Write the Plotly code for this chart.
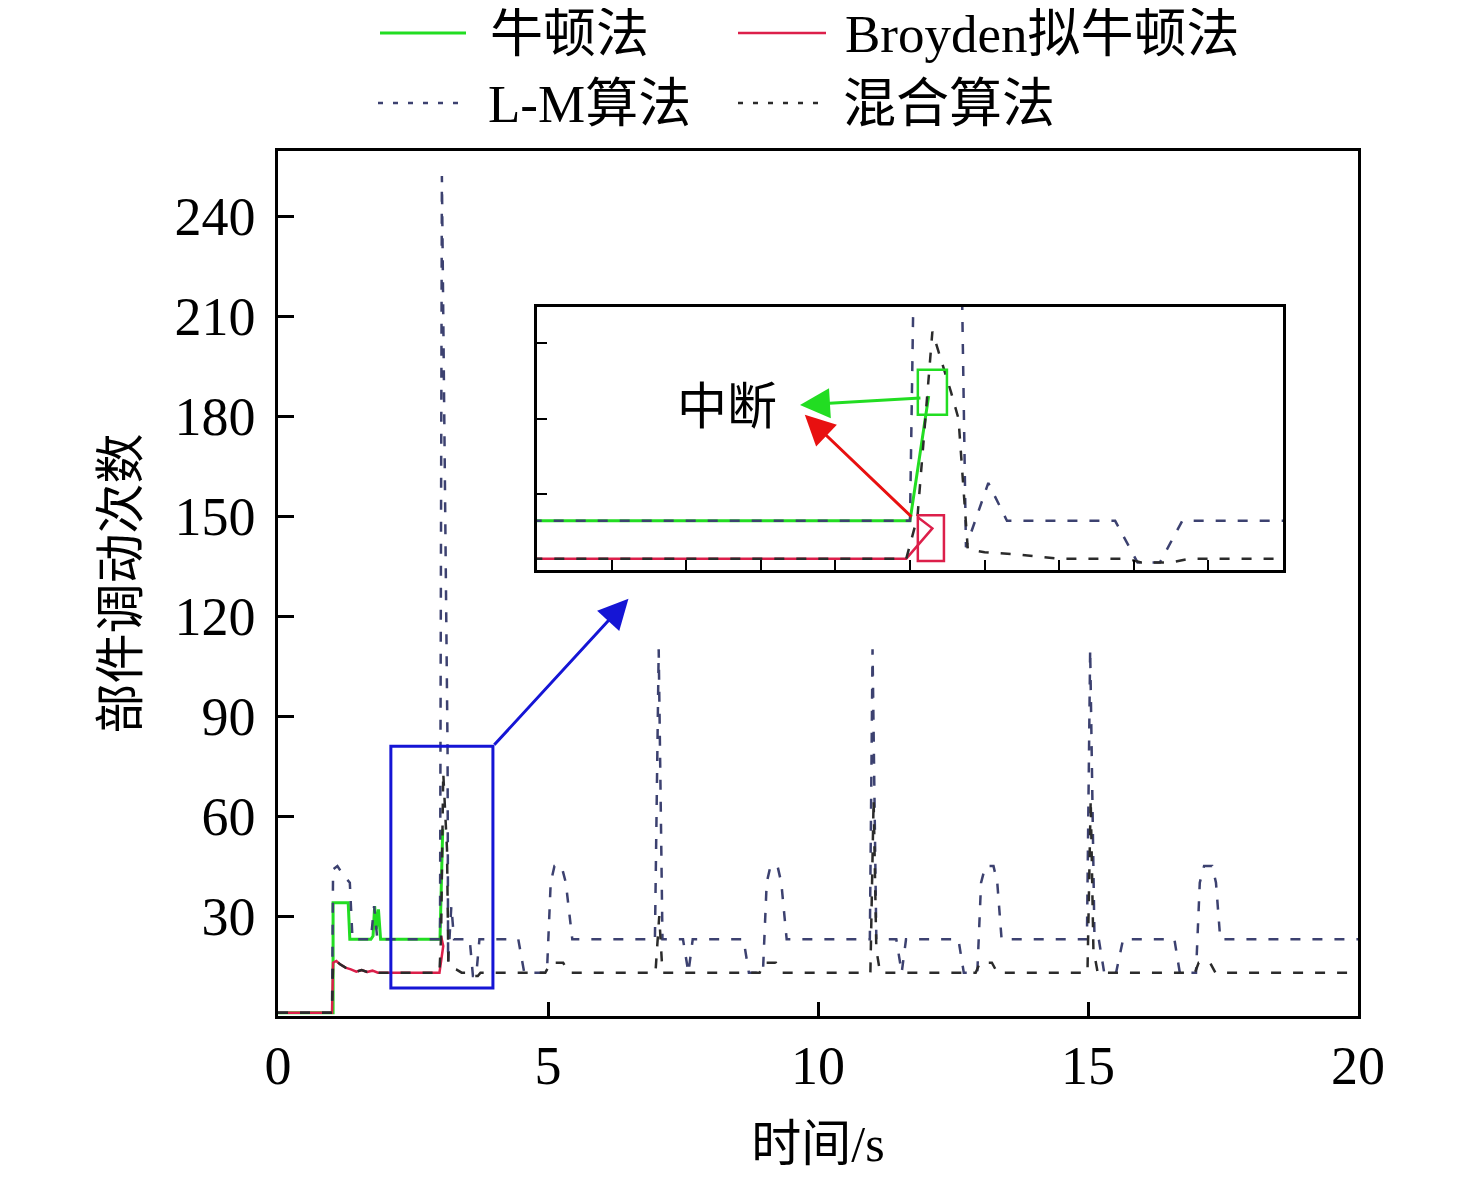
import plotly.graph_objects as go

# time (s) and component adjustment counts
NEWTON_T = [0, 1.00, 1.02, 1.02, 1.30, 1.33, 1.72, 1.76, 1.79, 1.82, 1.86, 1.90, 3.00, 3.05]
NEWTON_N = [1, 1, 1, 34, 34, 23, 23, 24, 33, 26, 32, 23, 23, 56]

BROYDEN_T = [0, 1.00, 1.02, 1.08, 1.15, 1.25, 1.35, 1.45, 1.55, 1.65, 1.75, 1.85, 2.99, 3.06, 3.02]
BROYDEN_N = [1, 1, 16, 16.5, 15.5, 14.5, 14, 13.3, 13.8, 13.2, 13.6, 13, 13, 21, 24]

LM_T = [0, 1.00, 1.02, 1.10, 1.22, 1.33, 1.38, 1.72, 1.78, 1.84, 3.00, 3.035, 3.14, 3.15,
        3.21, 3.26, 3.55, 3.61, 3.67, 3.73, 4.45, 4.56, 4.98, 5.05, 5.12, 5.25, 5.33, 5.45,
        6.98, 7.05, 7.12, 7.50, 7.60, 7.68, 8.62, 8.72, 8.98, 9.05, 9.12, 9.25, 9.32, 9.42,
        10.96, 11.01, 11.08, 11.45, 11.55, 11.63, 12.60, 12.70, 12.95, 13.02, 13.10, 13.25,
        13.32, 13.40, 14.98, 15.04, 15.12, 15.20, 15.30, 15.52, 15.65, 16.60, 16.70, 17.00,
        17.07, 17.15, 17.30, 17.37, 17.45, 20]
LM_N = [1, 1, 44, 45, 42, 40, 23, 23, 33, 23, 23, 252, 80, 16,
        33, 23, 23, 12, 12, 23, 23, 13, 13, 40, 45, 45, 40, 23,
        23, 110, 23, 23, 13, 23, 23, 13, 13, 40, 45, 45, 40, 23,
        23, 110, 23, 23, 13, 23, 23, 13, 13, 40, 45, 45,
        40, 23, 23, 110, 23, 23, 13, 13, 23, 23, 13, 13,
        40, 45, 45, 40, 23, 23]

HYBRID_T = [0, 1.00, 1.02, 1.08, 1.15, 1.25, 1.35, 1.45, 1.55, 1.65, 1.75, 1.85, 2.99, 3.02,
            3.06, 3.11, 3.13, 3.155, 3.20, 3.30, 3.40, 3.58, 3.62, 3.70, 3.75, 4.95, 5.05,
            5.28, 5.38, 6.99, 7.06, 7.12, 8.92, 9.00, 9.22, 9.32, 10.97, 11.03, 11.08, 11.15,
            12.92, 13.00, 13.22, 13.32, 14.99, 15.05, 15.10, 15.18, 16.98, 17.05, 17.26,
            17.36, 20]
HYBRID_N = [1, 1, 16, 16.5, 15.5, 14.5, 14, 13.3, 13.8, 13.2, 13.6, 13, 13, 24,
            73, 57, 50, 15.5, 14.7, 14, 13, 13, 12, 12, 13, 13, 16,
            16, 13, 13, 30, 13, 13, 16, 16, 13, 13, 65, 20, 13,
            13, 16, 16, 13, 13, 65, 20, 13, 13, 16, 16,
            13, 13]

SERIES = [
    ("牛顿法", NEWTON_T, NEWTON_N, "#22dd22", 3, "solid"),
    ("Broyden拟牛顿法", BROYDEN_T, BROYDEN_N, "#dc1f4a", 2.5, "solid"),
    ("L-M算法", LM_T, LM_N, "#3c4170", 2.5, "10px,12px"),
    ("混合算法", HYBRID_T, HYBRID_N, "#2b2b2b", 2.5, "10px,12px"),
]

Y_TICKS = [30, 60, 90, 120, 150, 180, 210, 240]
X_TICKS = [0, 5, 10, 15, 20]
INSET_X_TICKS = [2.2, 2.4, 2.6, 2.8, 3.0, 3.2, 3.4, 3.6, 3.8]
INSET_Y_TICKS = [30, 50, 70]

# page has a default 8px body margin, so the figure starts at (8, 8)
OFF = 8
W, H = 1476 - OFF, 1180 - OFF
L, R, T, B = 278 - OFF, 118, 151 - OFF, 164
FONT = "Liberation Serif, Noto Sans CJK SC, serif"


def px(x):
    return (x - OFF - L) / (W - L - R)


def py(y):
    return (OFF + H - B - y) / (H - T - B)


fig = go.Figure()
for name, t, n, color, width, dash in SERIES:
    fig.add_trace(go.Scatter(x=t, y=n, mode="lines", name=name, showlegend=False,
                             line=dict(color=color, width=width, dash=dash)))
for name, t, n, color, width, dash in SERIES:
    fig.add_trace(go.Scatter(x=t, y=n, mode="lines", name=name, showlegend=False,
                             xaxis="x2", yaxis="y2",
                             line=dict(color=color, width=width, dash=dash)))

axis_common = dict(showgrid=False, zeroline=False, showline=True, linecolor="black",
                   linewidth=2.5, mirror=True, ticks="inside", tickcolor="black")

fig.update_layout(
    width=W, height=H,
    margin=dict(l=L, r=R, t=T, b=B),
    plot_bgcolor="white", paper_bgcolor="white",
    font=dict(family=FONT, size=54, color="black"),
    showlegend=False,
    xaxis=dict(range=[0, 20], tickvals=X_TICKS, ticklen=14, tickwidth=2.5,
               ticklabelstandoff=0,
               title=dict(text="时间/s", font=dict(size=50), standoff=32), **axis_common),
    yaxis=dict(range=[0, 259.5], tickvals=Y_TICKS, ticklen=16, tickwidth=2.5,
               ticklabelstandoff=9,
               title=dict(text="部件调动次数", font=dict(size=50), standoff=20), **axis_common),
    xaxis2=dict(domain=[px(537), px(1283)], anchor="y2", range=[2, 4],
                tickvals=INSET_X_TICKS, showticklabels=False, ticklen=10, tickwidth=2,
                **axis_common),
    yaxis2=dict(domain=[py(570), py(307)], anchor="x2", range=[10, 79.5],
                tickvals=INSET_Y_TICKS, showticklabels=False, ticklen=10, tickwidth=2,
                **axis_common),
)

# inset background
fig.add_shape(type="rect", xref="x2 domain", yref="y2 domain", x0=0, x1=1, y0=0, y1=1,
              fillcolor="white", line=dict(width=0), layer="below")

# zoom box and arrow in main plot
fig.add_shape(type="rect", xref="x", yref="y", x0=2.09, x1=3.98, y0=8.4, y1=80.9,
              line=dict(color="#1515d5", width=3))
fig.add_annotation(x=6.49, y=125.2, ax=3.98, ay=80.9, xref="x", yref="y",
                   axref="x", ayref="y", text="", showarrow=True, arrowhead=2,
                   arrowsize=2, arrowwidth=3, arrowcolor="#1515d5")

# inset marks
fig.add_shape(type="rect", xref="x2", yref="y2", x0=3.021, x1=3.099, y0=51, y1=62.9,
              line=dict(color="#22dd22", width=2.5))
fig.add_shape(type="rect", xref="x2", yref="y2", x0=3.021, x1=3.091, y0=12.4, y1=24.5,
              line=dict(color="#dc1f4a", width=2.5))
fig.add_annotation(x=2.705, y=53.6, ax=3.032, ay=55.5, xref="x2", yref="y2",
                   axref="x2", ayref="y2", text="", showarrow=True, arrowhead=2,
                   arrowsize=2, arrowwidth=3, arrowcolor="#22dd22")
fig.add_annotation(x=2.718, y=51.0, ax=3.008, ay=23.7, xref="x2", yref="y2",
                   axref="x2", ayref="y2", text="", showarrow=True, arrowhead=2,
                   arrowsize=2, arrowwidth=3, arrowcolor="#e81010")
fig.add_annotation(x=2.509, y=53.1, xref="x2", yref="y2", text="中断", showarrow=False,
                   font=dict(size=50))

# legend drawn above the plot, two rows of two
legend_items = [
    (SERIES[0], 380, 466, 33, 488),
    (SERIES[1], 738, 826, 33, 843),
    (SERIES[2], 378, 468, 103, 486),
    (SERIES[3], 738, 828, 103, 841),
]
for (name, _, _, color, width, dash), x0, x1, yy, xt in legend_items:
    fig.add_shape(type="line", xref="paper", yref="paper", x0=px(x0), x1=px(x1),
                  y0=py(yy), y1=py(yy),
                  line=dict(color=color, width=width if dash == "solid" else 2.5,
                            dash="solid" if dash == "solid" else "5px,10px"))
    fig.add_annotation(x=px(xt), y=py(yy + 1), xref="paper", yref="paper", text=name,
                       showarrow=False, xanchor="left", yanchor="middle",
                       font=dict(size=53))

fig.write_html("out.html")
